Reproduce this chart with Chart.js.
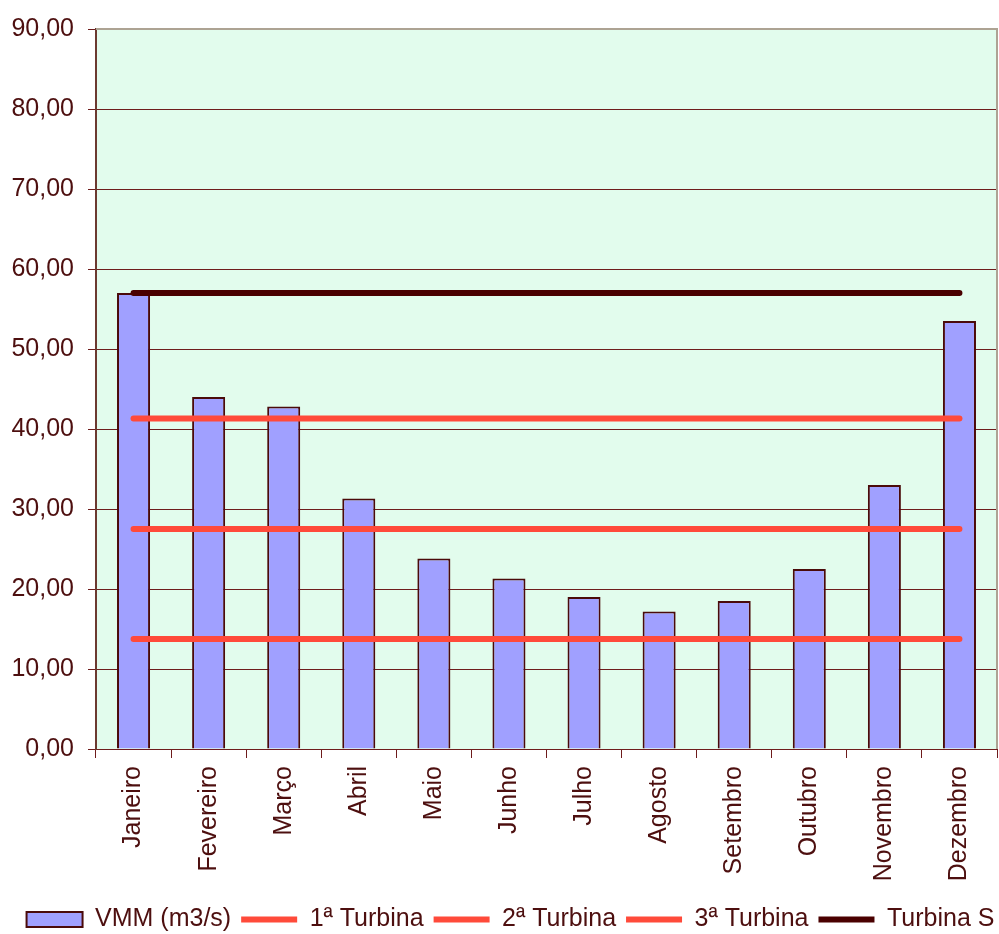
<!DOCTYPE html>
<html>
<head>
<meta charset="utf-8">
<script src="https://cdn.jsdelivr.net/npm/chart.js@4"></script>
<style>
  html, body { margin: 0; padding: 0; background: #fff; }
  #wrap { width: 999px; height: 934px; }
</style>
</head>
<body>
<div id="wrap"><canvas id="vazoesChart" width="999" height="934"></canvas></div>
<script>
const meses = ['Janeiro', 'Fevereiro', 'Março', 'Abril', 'Maio', 'Junho', 'Julho', 'Agosto', 'Setembro', 'Outubro', 'Novembro', 'Dezembro'];
const vmm = [57.0, 44.0, 42.8, 31.3, 23.8, 21.3, 19.0, 17.2, 18.5, 22.5, 33.0, 53.5];
const turbina1 = [13.75, 13.75, 13.75, 13.75, 13.75, 13.75, 13.75, 13.75, 13.75, 13.75, 13.75, 13.75];
const turbina2 = [27.5, 27.5, 27.5, 27.5, 27.5, 27.5, 27.5, 27.5, 27.5, 27.5, 27.5, 27.5];
const turbina3 = [41.3, 41.3, 41.3, 41.3, 41.3, 41.3, 41.3, 41.3, 41.3, 41.3, 41.3, 41.3];
const turbinaS = [57.0, 57.0, 57.0, 57.0, 57.0, 57.0, 57.0, 57.0, 57.0, 57.0, 57.0, 57.0];
const yTicks = [0, 10, 20, 30, 40, 50, 60, 70, 80, 90];

const texto = '#4d0f0f';
const grade = '#6e1c1c';
const vermelho = '#ff4a3a';

Chart.defaults.font.family = '"Liberation Sans", Arial, sans-serif';
Chart.defaults.font.size = 25;
Chart.defaults.color = texto;

// fundo verde da área do gráfico e moldura cinza
const moldura = {
    id: 'moldura',
    afterLayout(chart) {
        // empurra a legenda um pouco para baixo/direita, como no original
        const lg = chart.legend;
        lg.top += 8; lg.bottom += 8;
        lg.left += 12; lg.right += 12;
    },
    beforeDraw(chart) {
        const a = chart.chartArea;
        const ctx = chart.ctx;
        ctx.save();
        ctx.fillStyle = '#e2fced';
        ctx.fillRect(a.left, a.top, a.right - a.left, a.bottom - a.top);
        ctx.restore();
    },
    beforeDatasetsDraw(chart) {
        const a = chart.chartArea;
        const ctx = chart.ctx;
        ctx.save();
        ctx.strokeStyle = '#ada393';
        ctx.lineWidth = 2;
        ctx.beginPath();
        ctx.moveTo(a.left, a.top);
        ctx.lineTo(a.right, a.top);
        ctx.lineTo(a.right, a.bottom);
        ctx.stroke();
        ctx.restore();
    }
};

function linha(label, data, cor) {
    return {
        type: 'line',
        label: label,
        data: data,
        borderColor: cor,
        backgroundColor: cor,
        borderWidth: 6,
        borderCapStyle: 'round',
        pointRadius: 0,
        pointStyle: 'line',
        order: 1
    };
}

new Chart(document.getElementById('vazoesChart').getContext('2d'), {
    type: 'bar',
    data: {
        labels: meses,
        datasets: [
            {
                label: 'VMM (m3/s)',
                data: vmm,
                backgroundColor: '#a0a0ff',
                borderColor: '#4a0a0a',
                borderWidth: 2,
                pointStyle: 'rect',
                barPercentage: 0.44,
                categoryPercentage: 1.0,
                order: 2
            },
            linha('1ª Turbina', turbina1, vermelho),
            linha('2ª Turbina', turbina2, vermelho),
            linha('3ª Turbina', turbina3, vermelho),
            linha('Turbina S', turbinaS, '#4a0000')
        ]
    },
    plugins: [moldura],
    options: {
        responsive: false,
        animation: false,
        layout: { padding: { top: 28, right: 2, left: 0, bottom: 0 } },
        plugins: {
            tooltip: { enabled: false },
            legend: {
                position: 'bottom',
                labels: {
                    usePointStyle: true,
                    pointStyleWidth: 56,
                    boxHeight: 15,
                    padding: 10,
                    color: texto,
                    font: { size: 25 },
                    sort: (a, b) => a.datasetIndex - b.datasetIndex
                }
            }
        },
        scales: {
            x: {
                grid: {
                    offset: true,
                    drawOnChartArea: false,
                    drawTicks: true,
                    tickLength: 9,
                    color: grade
                },
                border: { color: grade, width: 1 },
                ticks: {
                    color: texto,
                    font: { size: 25 },
                    maxRotation: 90,
                    minRotation: 90,
                    padding: 8,
                    autoSkip: false
                },
                afterFit(scale) { scale.height = 140; }
            },
            y: {
                min: 0,
                max: 90,
                afterBuildTicks(scale) { scale.ticks = yTicks.map(v => ({ value: v })); },
                grid: {
                    color: ctx => (ctx.tick && ctx.tick.value === 90) ? 'rgba(0,0,0,0)' : grade,
                    tickColor: grade,
                    tickLength: 8,
                    lineWidth: 1
                },
                border: { color: '#6b3a30', width: 2 },
                ticks: {
                    color: texto,
                    font: { size: 25 },
                    padding: 14,
                    callback: v => v.toFixed(2).replace('.', ',')
                },
                afterFit(scale) { scale.width = 96; }
            }
        }
    }
});
</script>
</body>
</html>
